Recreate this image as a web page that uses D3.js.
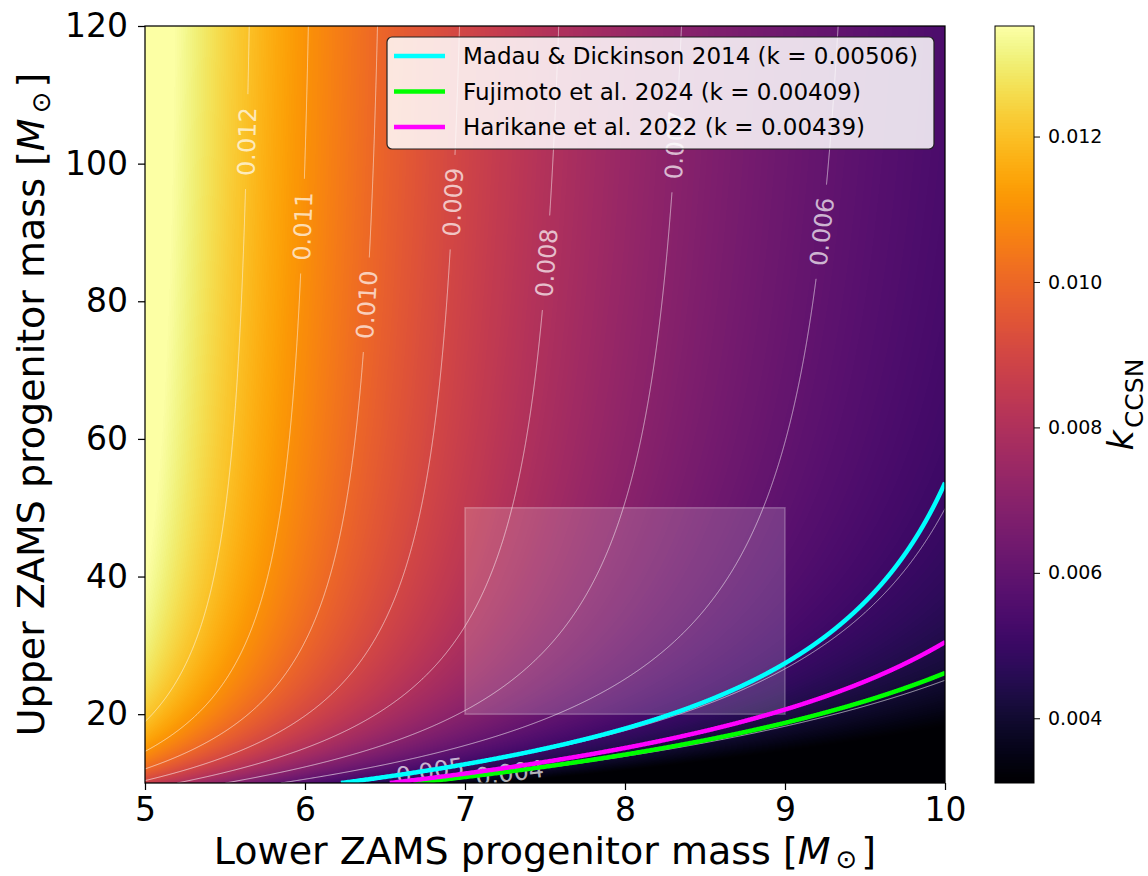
<!DOCTYPE html>
<html>
<head>
<meta charset="utf-8">
<script src="https://cdn.jsdelivr.net/npm/d3@7"></script>
<style>
  body { margin: 0; background: #fff; }
  svg { display: block; }
  text { font-family: "DejaVu Sans", sans-serif; }
</style>
</head>
<body>
<svg id="chart" width="1148" height="876"></svg>
<script>
// ---- data ----
// axis ticks
const lowerMassTicks = [5, 6, 7, 8, 9, 10];
const upperMassTicks = [20, 40, 60, 80, 100, 120];
const colorbarTicks = [0.004, 0.006, 0.008, 0.010, 0.012];

// plotted ranges (solar masses) and colour limits of k_CCSN
const lowerMassRange = [5, 10];
const upperMassRange = [10, 120];
const kColorRange = [0.00311, 0.01352];

// Salpeter IMF: k_CCSN = ∫_{mLow}^{mUp} φ dm / ∫ m φ dm
const imfSlope = 2.35;
const imfMassLimits = [0.1, 120];

// contour levels of the k_CCSN map
const contourLevels = [0.004, 0.005, 0.006, 0.007, 0.008, 0.009, 0.010, 0.011, 0.012];

// cosmic SFR-density calibrations and the k they imply
const calibrationNames = ["Madau & Dickinson 2014", "Fujimoto et al. 2024", "Harikane et al. 2022"];
const calibrationK = [0.00506, 0.00409, 0.00439];

// shaded mass window
const windowLowerMass = [7, 9];
const windowUpperMass = [20, 50];

// ---- layout & style ----
const plot = { left: 145, right: 945, top: 26, bottom: 783 };
const cbar = { left: 995, right: 1034 };
const calibrationColors = ["#00ffff", "#00ff00", "#ff00ff"];
// where each contour label sits along its line
const labelAnchors = {
  "0.012": { mUp: 103.2 }, "0.011": { mUp: 90.9 }, "0.010": { mUp: 79.5 },
  "0.009": { mUp: 94.4 }, "0.008": { mUp: 85.6 }, "0.007": { mUp: 102.7 },
  "0.006": { mUp: 90.1 }, "0.005": { mLow: 6.78 }, "0.004": { mLow: 7.28 }
};

// ---- model ----
const p = 1 - imfSlope;          // exponent of ∫ m^-s dm
const q = 2 - imfSlope;          // exponent of ∫ m^(1-s) dm
const massNorm = (Math.pow(imfMassLimits[0], q) - Math.pow(imfMassLimits[1], q)) / (-q);
function kCCSN(mLow, mUp) {
  return (Math.pow(mLow, p) - Math.pow(mUp, p)) / (-p) / massNorm;
}
function lowerMassFor(k, mUp) {
  return Math.pow(k * (-p) * massNorm + Math.pow(mUp, p), 1 / p);
}

// ---- scales ----
const x = d3.scaleLinear().domain(lowerMassRange).range([plot.left, plot.right]);
const y = d3.scaleLinear().domain(upperMassRange).range([plot.bottom, plot.top]);
const cy = d3.scaleLinear().domain(kColorRange).range([plot.bottom, plot.top]);
const tNorm = d3.scaleLinear().domain(kColorRange).range([0, 1]).clamp(true);
const lut = d3.range(1024).map(i => d3.rgb(d3.interpolateInferno(i / 1023)));

const svg = d3.select("#chart");
const defs = svg.append("defs");
defs.append("clipPath").attr("id", "plotClip")
  .append("rect")
  .attr("x", plot.left).attr("y", plot.top)
  .attr("width", plot.right - plot.left).attr("height", plot.bottom - plot.top);

// ---- heat map ----
const W = plot.right - plot.left, H = plot.bottom - plot.top;
const canvas = document.createElement("canvas");
canvas.width = W; canvas.height = H;
const ctx = canvas.getContext("2d");
const img = ctx.createImageData(W, H);
for (let j = 0; j < H; j++) {
  const b = y.invert(plot.top + j + 0.5);
  for (let i = 0; i < W; i++) {
    const a = x.invert(plot.left + i + 0.5);
    const c = lut[Math.round(tNorm(kCCSN(a, b)) * 1023)];
    const o = (j * W + i) * 4;
    img.data[o] = c.r; img.data[o + 1] = c.g; img.data[o + 2] = c.b; img.data[o + 3] = 255;
  }
}
ctx.putImageData(img, 0, 0);
svg.append("image")
  .attr("x", plot.left).attr("y", plot.top)
  .attr("width", W).attr("height", H)
  .attr("preserveAspectRatio", "none")
  .attr("href", canvas.toDataURL());

// ---- iso-k curves in pixel space ----
const nSamples = 4000;
function curvePoints(k) {
  const pts = [];
  for (let i = 0; i <= nSamples; i++) {
    const b = upperMassRange[0] + i * (upperMassRange[1] - upperMassRange[0]) / nSamples;
    const a = lowerMassFor(k, b);
    pts.push([x(a), y(b)]);
    if (a > lowerMassRange[1]) break;
  }
  return pts;
}
const line = d3.line();

const contourG = svg.append("g").attr("clip-path", "url(#plotClip)");
const labelG = svg.append("g");
const fmt = d3.format(".3f");
const labelFont = 24;
const labelItems = [];

contourLevels.forEach(level => {
  const pts = curvePoints(level);
  const key = fmt(level);
  const anchor = labelAnchors[key];
  let ci;
  if (anchor.mUp !== undefined) {
    const ty = y(anchor.mUp);
    ci = d3.minIndex(pts, d => Math.abs(d[1] - ty));
  } else {
    const tx = x(anchor.mLow);
    ci = d3.minIndex(pts, d => Math.abs(d[0] - tx));
  }
  const c = pts[ci];
  const p0 = pts[Math.max(0, ci - 30)], p1 = pts[Math.min(pts.length - 1, ci + 30)];
  const angle = Math.atan2(p1[1] - p0[1], p1[0] - p0[0]) * 180 / Math.PI;
  const halfGap = 2.862 * labelFont / 2 + 13;
  const before = [], after = [];
  pts.forEach((d, i) => {
    if (Math.hypot(d[0] - c[0], d[1] - c[1]) < halfGap) return;
    (i < ci ? before : after).push(d);
  });
  [before, after].forEach(seg => {
    if (seg.length > 1) {
      contourG.append("path").attr("d", line(seg))
        .attr("fill", "none").attr("stroke", "#fff")
        .attr("stroke-opacity", 0.6).attr("stroke-width", 1);
    }
  });
  labelItems.push({ text: key, x: c[0], y: c[1], angle });
});

// shaded mass window
svg.append("rect")
  .attr("x", x(windowLowerMass[0])).attr("y", y(windowUpperMass[1]))
  .attr("width", x(windowLowerMass[1]) - x(windowLowerMass[0]))
  .attr("height", y(windowUpperMass[0]) - y(windowUpperMass[1]))
  .attr("fill", "#fff").attr("fill-opacity", 0.17)
  .attr("stroke", "#fff").attr("stroke-opacity", 0.25).attr("stroke-width", 1.5);

// calibration curves
const calG = svg.append("g").attr("clip-path", "url(#plotClip)");
calibrationK.forEach((k, i) => {
  calG.append("path").attr("d", line(curvePoints(k)))
    .attr("fill", "none").attr("stroke", calibrationColors[i])
    .attr("stroke-width", 4.5);
});

// contour labels
labelItems.forEach(d => {
  labelG.append("text")
    .attr("transform", `translate(${d.x},${d.y}) rotate(${d.angle})`)
    .attr("text-anchor", "middle").attr("dy", "0.36em")
    .attr("font-size", labelFont)
    .attr("fill", "#fff").attr("fill-opacity", 0.7)
    .text(d.text);
});

// ---- axes ----
const xAxis = svg.append("g").attr("transform", `translate(0,${plot.bottom})`)
  .call(d3.axisBottom(x).tickValues(lowerMassTicks).tickFormat(d3.format("d"))
    .tickSize(7).tickSizeOuter(0).tickPadding(8));
const yAxis = svg.append("g").attr("transform", `translate(${plot.left},0)`)
  .call(d3.axisLeft(y).tickValues(upperMassTicks).tickFormat(d3.format("d"))
    .tickSize(7).tickSizeOuter(0).tickPadding(10));
[xAxis, yAxis].forEach(g => {
  g.select(".domain").remove();
  g.selectAll(".tick line").attr("stroke", "#000").attr("stroke-width", 1.25);
  g.selectAll(".tick text").attr("font-size", 33).attr("fill", "#000")
    .attr("font-family", "DejaVu Sans");
});

svg.append("rect")
  .attr("x", plot.left).attr("y", plot.top).attr("width", W).attr("height", H)
  .attr("fill", "none").attr("stroke", "#000").attr("stroke-width", 1.25);

// axis titles
const xTitle = svg.append("text").attr("x", (plot.left + plot.right) / 2).attr("y", 864)
  .attr("text-anchor", "middle").attr("font-size", 38).attr("fill", "#000");
xTitle.append("tspan").text("Lower ZAMS progenitor mass [");
xTitle.append("tspan").attr("font-style", "italic").text("M");
xTitle.append("tspan").attr("font-size", 26).attr("dx", 5).attr("dy", 4).text("\u2299");
xTitle.append("tspan").attr("dx", 4).attr("dy", -4).text("]");

const yTitle = svg.append("text")
  .attr("transform", `translate(44,${(plot.top + plot.bottom) / 2}) rotate(-90)`)
  .attr("text-anchor", "middle").attr("font-size", 38).attr("fill", "#000");
yTitle.append("tspan").text("Upper ZAMS progenitor mass [");
yTitle.append("tspan").attr("font-style", "italic").text("M");
yTitle.append("tspan").attr("font-size", 26).attr("dx", 5).attr("dy", 6).text("\u2299");
yTitle.append("tspan").attr("dx", 4).attr("dy", -6).text("]");

// ---- colour bar ----
const cbH = plot.bottom - plot.top;
const cbCanvas = document.createElement("canvas");
cbCanvas.width = 1; cbCanvas.height = cbH;
const cbCtx = cbCanvas.getContext("2d");
const cbImg = cbCtx.createImageData(1, cbH);
for (let j = 0; j < cbH; j++) {
  const c = lut[Math.round(tNorm(cy.invert(plot.top + j + 0.5)) * 1023)];
  cbImg.data[j * 4] = c.r; cbImg.data[j * 4 + 1] = c.g; cbImg.data[j * 4 + 2] = c.b; cbImg.data[j * 4 + 3] = 255;
}
cbCtx.putImageData(cbImg, 0, 0);
svg.append("image")
  .attr("x", cbar.left).attr("y", plot.top)
  .attr("width", cbar.right - cbar.left).attr("height", cbH)
  .attr("preserveAspectRatio", "none")
  .attr("href", cbCanvas.toDataURL());
svg.append("rect")
  .attr("x", cbar.left).attr("y", plot.top)
  .attr("width", cbar.right - cbar.left).attr("height", cbH)
  .attr("fill", "none").attr("stroke", "#000").attr("stroke-width", 1);
const cAxis = svg.append("g").attr("transform", `translate(${cbar.right},0)`)
  .call(d3.axisRight(cy).tickValues(colorbarTicks).tickFormat(d3.format(".3f"))
    .tickSize(6).tickSizeOuter(0).tickPadding(8));
cAxis.select(".domain").remove();
cAxis.selectAll(".tick line").attr("stroke", "#000").attr("stroke-width", 1);
cAxis.selectAll(".tick text").attr("font-size", 19).attr("fill", "#000")
  .attr("font-family", "DejaVu Sans");

const cTitle = svg.append("text")
  .attr("transform", `translate(1133,${(plot.top + plot.bottom) / 2}) rotate(-90)`)
  .attr("text-anchor", "middle").attr("font-size", 35).attr("fill", "#000");
cTitle.append("tspan").attr("font-style", "italic").text("k");
cTitle.append("tspan").attr("font-size", 25).attr("dy", 10).attr("dx", 2).text("CCSN");

// ---- legend ----
const legend = svg.append("g");
legend.append("rect")
  .attr("x", 387).attr("y", 37).attr("width", 547).attr("height", 112).attr("rx", 5)
  .attr("fill", "#fff").attr("fill-opacity", 0.85)
  .attr("stroke", "#222").attr("stroke-width", 1.2);
calibrationNames.forEach((name, i) => {
  const ly = 56 + i * 35.5;
  legend.append("line").attr("x1", 394).attr("x2", 445).attr("y1", ly).attr("y2", ly)
    .attr("stroke", calibrationColors[i]).attr("stroke-width", 4.5);
  legend.append("text").attr("x", 463).attr("y", ly + 8.3)
    .attr("font-size", 23).attr("fill", "#000")
    .text(`${name} (k = ${calibrationK[i].toFixed(5)})`);
});
</script>
</body>
</html>
